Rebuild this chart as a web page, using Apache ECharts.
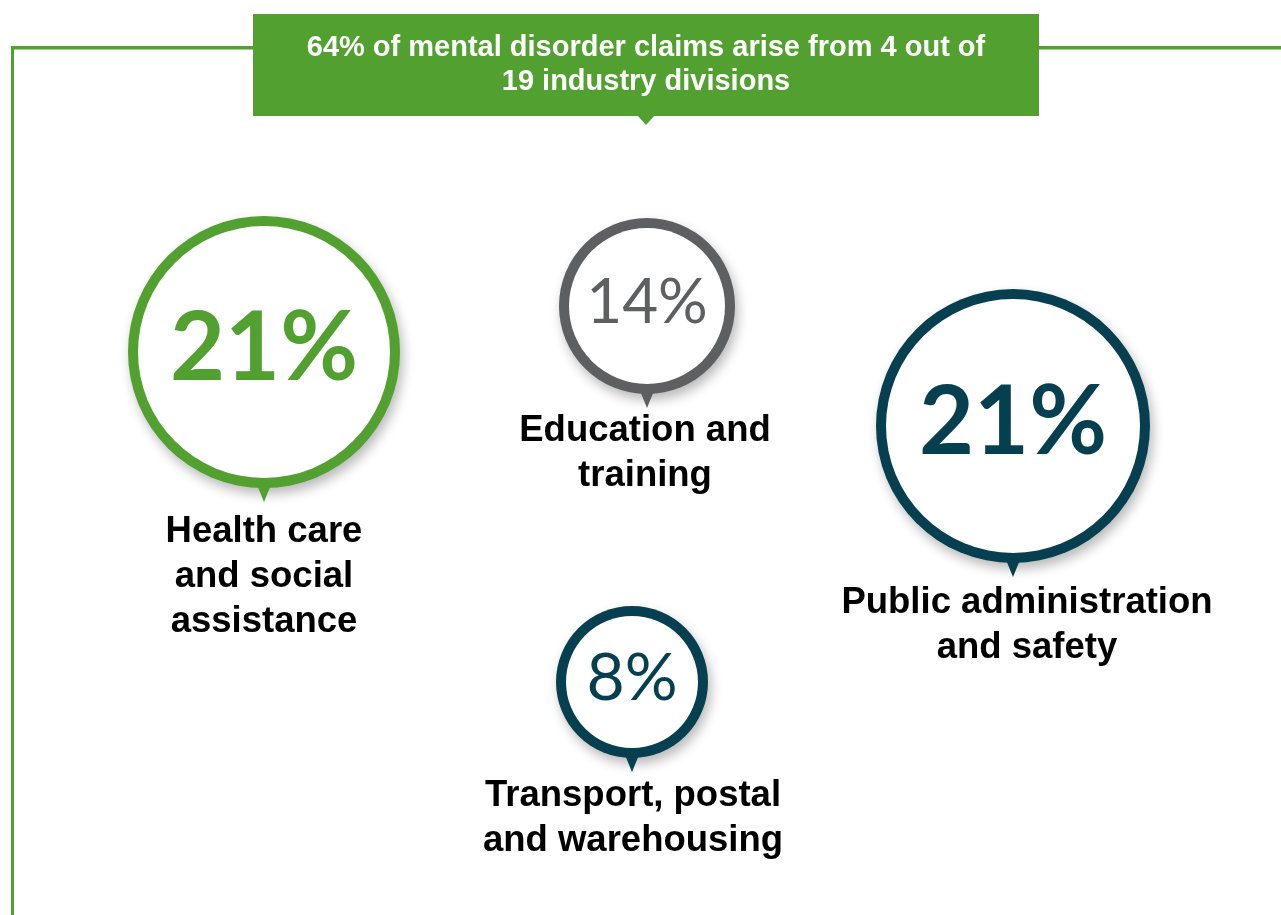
<!DOCTYPE html>
<html>
<head>
<meta charset="utf-8">
<script src="https://cdn.jsdelivr.net/npm/echarts@6/dist/echarts.min.js"></script>
<style>
html,body{margin:0;padding:0;background:#fff;}
#chart{width:1281px;height:915px;}
</style>
</head>
<body>
<div id="chart"></div>
<script>
// ---- data ----
const titleLines = ['64% of mental disorder claims arise from 4 out of', '19 industry divisions'];
const categories = ['Health care\nand social\nassistance', 'Education and\ntraining', 'Public administration\nand safety', 'Transport, postal\nand warehousing'];
const shares = [21, 14, 21, 8];

// ---- layout (axis units of a hidden 1281 x 915 plane) ----
const bubbleX = [264, 647, 1013, 632];
const bubbleY = [352, 306, 426, 682];
const bubbleR = [136, 88, 137, 76];
const labelX = [264, 645, 1027, 633];
const labelY = [531, 430, 602, 795];

// ---- styles ----
const GREEN = '#52a02f';
const bubbleColor = ['#52a02f', '#5e5f61', '#063f4f', '#063f4f'];
const valueSize = [95, 62, 95, 66];
const valueWeight = ['bold', 'normal', 'bold', 'normal'];

const chart = echarts.init(document.getElementById('chart'), null, {renderer: 'canvas'});

const seriesData = shares.map((v, i) => [bubbleX[i], bubbleY[i], bubbleR[i], i, labelX[i], labelY[i]]);

function renderItem(params, api) {
  const i = api.value(3);
  const c = api.coord([api.value(0), api.value(1)]);
  const r = api.size([api.value(2), 0])[0];
  const lp = api.coord([api.value(4), api.value(5)]);
  const col = bubbleColor[i];
  const ring = 10;
  return {
    type: 'group',
    children: [
      {
        type: 'group',
        children: [
          { type: 'circle', shape: {cx: c[0], cy: c[1], r: r},
            style: {fill: col, shadowBlur: 12, shadowOffsetX: 3, shadowOffsetY: 6, shadowColor: 'rgba(0,0,0,0.28)'} },
          { type: 'polygon', shape: {points: [[c[0] - 9, c[1] + r - 8], [c[0] + 9, c[1] + r - 8], [c[0], c[1] + r + 14]]},
            style: {fill: col} },
          { type: 'circle', shape: {cx: c[0], cy: c[1], r: r - ring}, style: {fill: '#ffffff'} }
        ]
      },
      { type: 'text',
        style: {text: shares[i] + '%', x: c[0], y: c[1] - 3, align: 'center', verticalAlign: 'middle',
          fill: col, font: valueWeight[i] + ' ' + valueSize[i] + 'px Lato'} },
      { type: 'text',
        style: {text: categories[i], x: lp[0], y: lp[1] - 22, align: 'center', verticalAlign: 'top',
          fill: '#000000', font: 'bold 36.5px "Liberation Sans", Arial', lineHeight: 45} }
    ]
  };
}

chart.setOption({
  animation: false,
  grid: {left: 0, right: 0, top: 0, bottom: 0},
  xAxis: {type: 'value', min: 0, max: 1281, show: false},
  yAxis: {type: 'value', min: 0, max: 915, inverse: true, show: false},
  graphic: [
    { type: 'rect', shape: {x: 12, y: 46, width: 1269, height: 3.5}, style: {fill: GREEN}, z: 1 },
    { type: 'rect', shape: {x: 11, y: 46, width: 3, height: 869}, style: {fill: GREEN}, z: 1 },
    { type: 'rect', shape: {x: 253, y: 14, width: 786, height: 102}, style: {fill: GREEN}, z: 2 },
    { type: 'polygon', shape: {points: [[637, 115], [655, 115], [646, 125]]}, style: {fill: GREEN}, z: 2 },
    { type: 'text', z: 3,
      style: {text: titleLines.join('\n'), x: 646, y: 31, align: 'center', verticalAlign: 'top',
        fill: '#ffffff', font: 'bold 29px "Liberation Sans", Arial', lineHeight: 34} }
  ],
  series: [{
    type: 'custom',
    coordinateSystem: 'cartesian2d',
    renderItem: renderItem,
    data: seriesData,
    silent: true
  }]
});
</script>
</body>
</html>
